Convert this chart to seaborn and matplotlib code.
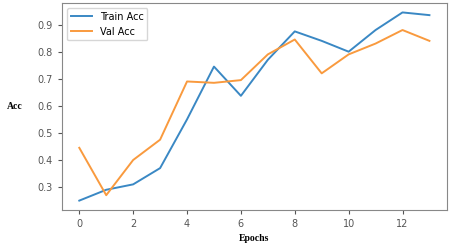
import matplotlib
matplotlib.use("Agg")
import matplotlib.pyplot as plt
import seaborn as sns
import pandas as pd

epochs = list(range(14))
train_acc = [0.25, 0.29, 0.31, 0.37, 0.55, 0.745, 0.637, 0.77, 0.875, 0.84, 0.80, 0.88, 0.945, 0.935]
val_acc = [0.445, 0.27, 0.40, 0.475, 0.69, 0.685, 0.695, 0.79, 0.845, 0.72, 0.79, 0.83, 0.88, 0.84]

df = pd.DataFrame({
    "Epoch": epochs * 2,
    "Acc": train_acc + val_acc,
    "Series": ["Train Acc"] * len(epochs) + ["Val Acc"] * len(epochs),
})

plt.rcParams.update(plt.rcParamsDefault)
fig = plt.figure(figsize=(4.51, 2.46), dpi=100)
ax = fig.add_axes([0.137, 0.146, 0.854, 0.842])
sns.lineplot(data=df, x="Epoch", y="Acc", hue="Series",
             palette=["#3a88c4", "#f99a3e"], ax=ax, linewidth=1.4)
ax.set_xlim(-0.65, 13.65)
ax.set_ylim(0.215, 0.98)
ax.set_xticks([0, 2, 4, 6, 8, 10, 12])
ax.set_yticks([0.3, 0.4, 0.5, 0.6, 0.7, 0.8, 0.9])
ax.tick_params(labelsize=7, length=3, colors="#555555")
for s in ax.spines.values():
    s.set_color("#888888")
ax.set_xlabel("Epochs", fontfamily="Liberation Serif", fontweight="bold", fontsize=7, labelpad=3.5)
ax.set_ylabel("Acc", fontfamily="Liberation Serif", fontweight="bold", fontsize=7,
              rotation=0, labelpad=16, va="center")
leg = ax.legend(loc="upper left", fontsize=7, frameon=True, handlelength=2.2)
leg.set_title(None)
fig.savefig("out.png", dpi=100)
